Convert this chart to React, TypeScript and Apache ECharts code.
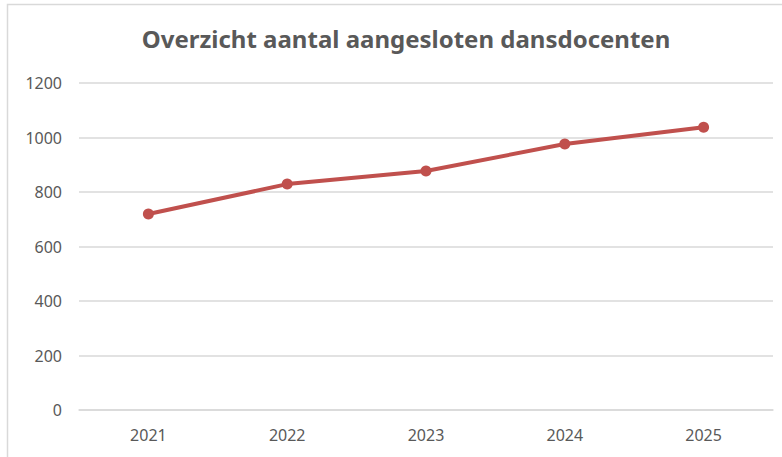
import React, { useEffect, useRef } from "react";
import * as echarts from "echarts";

const title = "Overzicht aantal aangesloten dansdocenten";
const years = ["2021", "2022", "2023", "2024", "2025"];
const docenten = [719, 829, 877, 976, 1038];
const yTicks = { min: 0, max: 1200, interval: 200 };

export default function App() {
  const ref = useRef<HTMLDivElement>(null);
  useEffect(() => {
    document.body.style.margin = "0";
    const chart = echarts.init(ref.current!, null, { renderer: "svg" });
    const font = "'Noto Sans', 'Open Sans', sans-serif";
    chart.setOption({
      animation: false,
      backgroundColor: "#ffffff",
      title: {
        text: title,
        left: 401,
        textAlign: "center",
        top: 21,
        textStyle: { fontFamily: font, fontSize: 24, fontWeight: "bold", color: "#595959" },
      },
      graphic: [
        {
          type: "rect",
          shape: { x: 7.5, y: 4.5, width: 820, height: 520 },
          style: { fill: "none", stroke: "#d9d9d9", lineWidth: 1.5 },
          silent: true,
        },
      ],
      grid: { left: 79, right: 9, top: 83, bottom: 47, containLabel: false },
      xAxis: {
        type: "category",
        data: years,
        boundaryGap: true,
        axisLine: { show: true, lineStyle: { color: "#d9d9d9", width: 1.5 } },
        axisTick: { show: false },
        axisLabel: { margin: 17, fontFamily: font, fontSize: 16, color: "#595959" },
      },
      yAxis: {
        type: "value",
        min: yTicks.min,
        max: yTicks.max,
        interval: yTicks.interval,
        axisLine: { show: false },
        axisTick: { show: false },
        axisLabel: {
          margin: 17,
          fontFamily: font,
          fontSize: 16,
          color: "#595959",
          formatter: (v: number) => String(v),
        },
        splitLine: { lineStyle: { color: "#d9d9d9", width: 1.5 } },
      },
      series: [
        {
          type: "line",
          data: docenten,
          symbol: "circle",
          symbolSize: 11,
          lineStyle: { color: "#c0504d", width: 4 },
          itemStyle: { color: "#c0504d" },
        },
      ],
    });
    return () => chart.dispose();
  }, []);
  return <div ref={ref} style={{ width: 782, height: 457 }} />;
}
